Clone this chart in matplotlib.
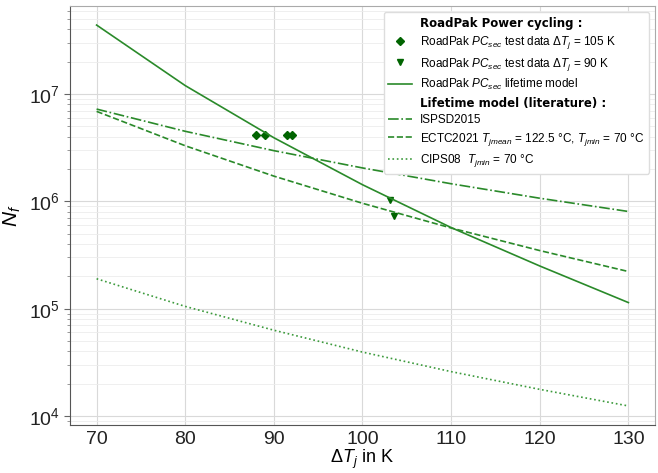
import matplotlib
matplotlib.use("Agg")
import matplotlib.pyplot as plt
from matplotlib.lines import Line2D
from matplotlib.ticker import LogLocator, NullFormatter

plt.rcParams['font.family'] = ['Liberation Sans', 'DejaVu Sans']
plt.rcParams['mathtext.fontset'] = 'custom'
plt.rcParams['mathtext.rm'] = 'Liberation Sans'
plt.rcParams['mathtext.it'] = 'Liberation Sans:italic'
plt.rcParams['mathtext.bf'] = 'Liberation Sans:bold'

# Data
dT = [70, 80, 90, 100, 110, 120, 130]
model_roadpak = [4.4e7, 1.2e7, 3.92e6, 1.43e6, 5.7e5, 2.5e5, 1.14e5]
model_ispsd = [7.25e6, 4.5e6, 2.97e6, 2.05e6, 1.46e6, 1.07e6, 8.05e5]
model_ectc = [6.9e6, 3.3e6, 1.72e6, 9.6e5, 5.65e5, 3.48e5, 2.22e5]
model_cips = [1.9e5, 1.05e5, 6.3e4, 3.94e4, 2.59e4, 1.77e4, 1.24e4]

test105_dT = [88.0, 89.0, 91.5, 92.0]
test105_N = [4.2e6, 4.2e6, 4.2e6, 4.2e6]
test90_dT = [103.1, 103.6]
test90_N = [1.03e6, 7.3e5]

line_color = '#2a8a2a'
marker_color = '#006400'

fig = plt.figure(figsize=(6.58, 4.73), dpi=100)
ax = fig.add_axes([0.1064, 0.1015, 0.889, 0.8858])

ax.set_yscale('log')
ax.grid(True, which='major', color='#d9d9d9', linewidth=0.8)
ax.grid(True, which='minor', axis='y', color='#ececec', linewidth=0.6)
ax.set_axisbelow(True)

h_hdr1 = Line2D([], [], linestyle='none', marker='none')
h105, = ax.plot(test105_dT, test105_N, linestyle='none', marker='D', markersize=4.5,
                color=marker_color)
h90, = ax.plot(test90_dT, test90_N, linestyle='none', marker='v', markersize=4.5,
               color=marker_color)
hm, = ax.plot(dT, model_roadpak, '-', color=line_color, linewidth=1.2)
h_hdr2 = Line2D([], [], linestyle='none', marker='none')
hi, = ax.plot(dT, model_ispsd, '-.', color=line_color, linewidth=1.2)
he, = ax.plot(dT, model_ectc, '--', color=line_color, linewidth=1.2)
hc, = ax.plot(dT, model_cips, ':', color='#3c9a3c', linewidth=1.2)

ax.set_xticks([70, 80, 90, 100, 110, 120, 130])
ax.yaxis.set_major_locator(LogLocator(base=10))
ax.yaxis.set_minor_locator(LogLocator(base=10, subs=range(2, 10)))
ax.yaxis.set_minor_formatter(NullFormatter())
ax.tick_params(axis='both', which='major', labelsize=14, colors='#222222')
ax.tick_params(axis='x', length=0, pad=4)
ax.tick_params(axis='y', which='major', length=4, color='#666666')
ax.tick_params(axis='y', which='minor', length=2.5, color='#888888')

for s in ['left', 'bottom']:
    ax.spines[s].set_color('#555555')
for s in ['top', 'right']:
    ax.spines[s].set_color('#aaaaaa')

ax.set_xlabel(r'$\Delta T_j$ in K', fontsize=13, labelpad=0)
ax.set_ylabel(r'$N_f$', fontsize=15)

labels = [
    'RoadPak Power cycling :',
    r'RoadPak $PC_{sec}$ test data $\Delta T_j$ = 105 K',
    r'RoadPak $PC_{sec}$ test data $\Delta T_j$ = 90 K',
    r'RoadPak $PC_{sec}$ lifetime model',
    'Lifetime model (literature) :',
    'ISPSD2015',
    r'ECTC2021 $T_{jmean}$ = 122.5 °C, $T_{jmin}$ = 70 °C',
    r'CIPS08  $T_{jmin}$ = 70 °C',
]
leg = ax.legend([h_hdr1, h105, h90, hm, h_hdr2, hi, he, hc], labels,
                loc='upper right', fontsize=8.5, framealpha=1.0,
                edgecolor='#dddddd', labelspacing=0.38, borderaxespad=0.5,
                handletextpad=0.7)
for i in (0, 4):
    t = leg.get_texts()[i]
    t.set_fontweight('bold')
    t.set_family('DejaVu Sans')

fig.savefig('out.png', dpi=100)
